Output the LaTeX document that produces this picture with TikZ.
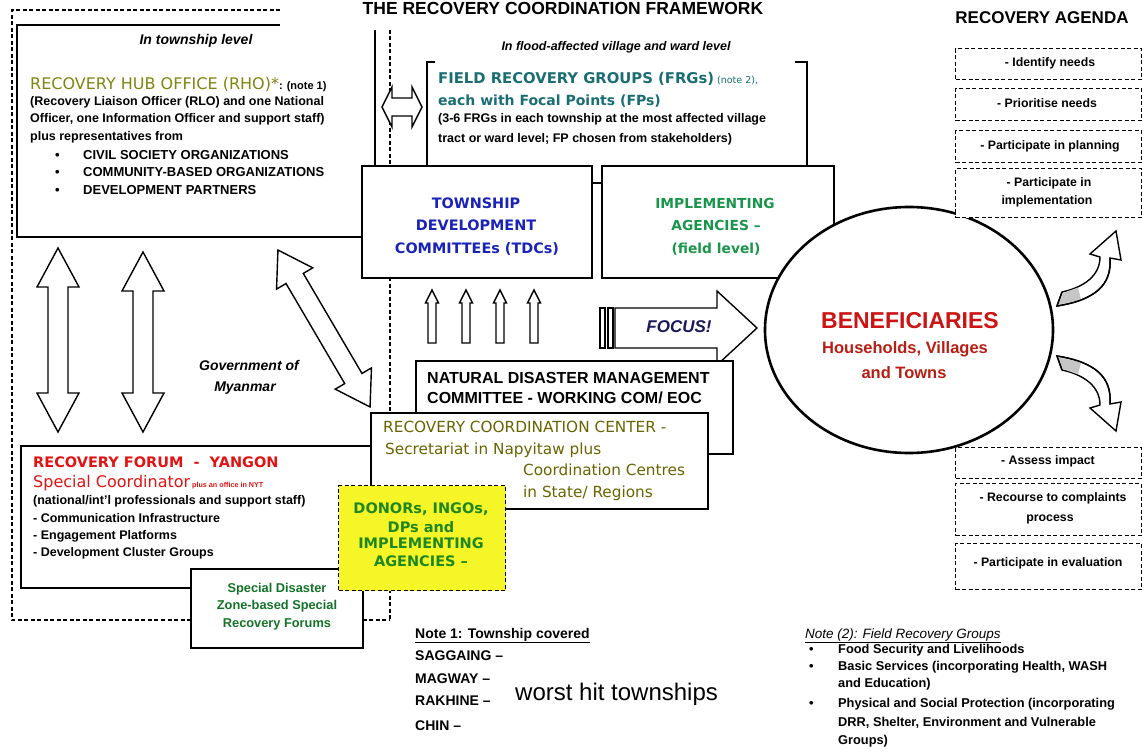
\documentclass[tikz,border=0pt]{standalone}
\usepackage{fontspec}
\setmainfont{Liberation Sans}
\newfontfamily\dvs{DejaVu Sans}
\usetikzlibrary{shapes.geometric,calc}
\definecolor{olv}{RGB}{128,132,16}
\definecolor{rccol}{RGB}{105,100,0}
\definecolor{frgteal}{RGB}{25,110,115}
\definecolor{tdcblue}{RGB}{25,35,185}
\definecolor{iagreen}{RGB}{25,150,75}
\definecolor{rfred}{RGB}{225,20,20}
\definecolor{dngreen}{RGB}{30,135,30}
\definecolor{dnyellow}{RGB}{245,245,40}
\definecolor{sdgreen}{RGB}{20,115,40}
\definecolor{benred}{RGB}{205,20,20}
\definecolor{hhred}{RGB}{185,30,20}
\definecolor{navy}{RGB}{25,25,90}
% double block arrow: cx, cy, angle, half length, half head width, half shaft width, head length
\newcommand{\dblblk}[7]{\begin{scope}[shift={(#1,#2)},rotate=#3]\draw[blockar] (-#4,0) -- (-#4+#7,#5) -- (-#4+#7,#6) -- (#4-#7,#6) -- (#4-#7,#5) -- (#4,0) -- (#4-#7,-#5) -- (#4-#7,-#6) -- (-#4+#7,-#6) -- (-#4+#7,-#5) -- cycle;\end{scope}}
% single block arrow
\newcommand{\sglblk}[7]{\begin{scope}[shift={(#1,#2)},rotate=#3]\draw[blockar] (-#4,#6) -- (#4-#7,#6) -- (#4-#7,#5) -- (#4,0) -- (#4-#7,-#5) -- (#4-#7,-#6) -- (-#4,-#6) -- cycle;\end{scope}}
\begin{document}
\begin{tikzpicture}[x=1pt,y=-1pt,
  bx/.style={draw=black,line width=1.6pt,fill=white,inner sep=0pt,anchor=north west},
  dl/.style={line width=1.3pt,dash pattern=on 4pt off 2.5pt},
  agbox/.style={draw=black,line width=1.4pt,dash pattern=on 4pt off 2.5pt,fill=white,inner sep=0pt,anchor=north west,minimum width=186pt},
  blockar/.style={draw=black,line width=1.4pt,fill=white,line join=miter},
  tx/.style={inner sep=0pt,anchor=base west},
  tc/.style={inner sep=0pt,anchor=base},
  sm/.style={font=\fontsize{12.5}{15}\selectfont\bfseries},
  ag/.style={tc,font=\fontsize{12.3}{15}\selectfont\bfseries},
  bul/.style={tx,font=\fontsize{13}{15}\selectfont\bfseries},
  tdcf/.style={tc,font=\dvs\fontsize{14.4}{17}\selectfont\bfseries,text=tdcblue},
  iaf/.style={tc,font=\dvs\fontsize{13.8}{17}\selectfont\bfseries,text=iagreen},
  rccf/.style={tx,font=\dvs\fontsize{15.3}{17}\selectfont,text=rccol},
  dnf/.style={tc,font=\dvs\fontsize{14.5}{17}\selectfont\bfseries,text=dngreen},
  sdf/.style={tc,font=\fontsize{12.8}{15}\selectfont\bfseries,text=sdgreen},
  n1/.style={tx,font=\fontsize{14}{16}\selectfont\bfseries},
  n2/.style={tx,font=\fontsize{12.8}{15}\selectfont\bfseries},
]
\useasboundingbox (0,0) rectangle (1144,752);
\clip (0,0) rectangle (1144,752);
\fill[white] (0,0) rectangle (1144,752);

% titles
\node[tc,font=\fontsize{17.5}{20}\selectfont\bfseries] (title) at (563,15) {THE RECOVERY COORDINATION FRAMEWORK};
\node[tc,font=\fontsize{17}{20}\selectfont\bfseries] (agenda) at (1042,24) {RECOVERY AGENDA};

% dashed frame and separators
\draw[dl] (280,10) -- (12,10) -- (12,620) -- (390,620);
\draw[dl] (390,30) -- (390,620);
\draw[line width=1.6pt] (375,30) -- (375,165);
% RHO frame
\draw[line width=1.6pt] (280,25) -- (17,25) -- (17,237) -- (362,237);
% FRG bracket
\draw[line width=1.6pt] (435,62) -- (427,62) -- (427,165);
\draw[line width=1.6pt] (795,62) -- (807,62) -- (807,165);

% RHO text
\node[tx,font=\fontsize{14}{16}\selectfont\bfseries\itshape,anchor=base] (tlevel) at (196,45) {In township level};
\node[tx] (rhoh) at (30,89) {{\dvs\fontsize{16}{18}\selectfont\color{olv}RECOVERY HUB OFFICE (RHO)*}{\fontsize{11}{13}\selectfont\bfseries: (note 1)}};
\node[tx,sm] (rho1) at (30,105.5) {(Recovery Liaison Officer (RLO) and one National};
\node[tx,sm] (rho2) at (30,122.5) {Officer, one Information Officer and support staff)};
\node[tx,sm] (rho3) at (30,140.5) {plus representatives from};
\node[bul] (b1) at (55,159.5) {•};
\node[bul] (b2) at (55,176.5) {•};
\node[bul] (b3) at (55,194.5) {•};
\node[bul] (rho4) at (83,159.5) {CIVIL SOCIETY ORGANIZATIONS};
\node[bul] (rho5) at (83,176.5) {COMMUNITY-BASED ORGANIZATIONS};
\node[bul] (rho6) at (83,194.5) {DEVELOPMENT PARTNERS};

% FRG text
\node[tc,font=\fontsize{12.5}{15}\selectfont\bfseries\itshape] (flevel) at (616,50.5) {In flood-affected village and ward level};
\node[tx] (frgh) at (438,83.5) {{\dvs\fontsize{14.8}{17}\selectfont\bfseries\color{frgteal}FIELD RECOVERY GROUPS (FRGs)}{\dvs\fontsize{9.5}{11}\selectfont\color{frgteal}\ (note 2),}};
\node[tx,font=\dvs\fontsize{14}{17}\selectfont\bfseries,text=frgteal] (frg2) at (438,105.5) {each with Focal Points (FPs)};
\node[tx,sm] (frg3) at (438,122.5) {(3-6 FRGs in each township at the most affected village};
\node[tx,sm] (frg4) at (438,142.5) {tract or ward level; FP chosen from stakeholders)};

% TDC and IA boxes
\node[bx,minimum width=230pt,minimum height=112pt] (tdc) at (361,165) {};
\node[bx,minimum width=232pt,minimum height=112pt] (ia) at (601,165) {};
\draw[line width=1.6pt] ($(tdc.north east)+(0,18)$) -- ($(ia.north west)+(0,18)$);
\node[tdcf] (tdc1) at (476,208) {TOWNSHIP};
\node[tdcf] (tdc2) at (476,230) {DEVELOPMENT};
\node[tdcf] (tdc3) at (477,253) {COMMITTEEs (TDCs)};
\node[iaf] (ia1) at (715,208) {IMPLEMENTING};
\node[iaf] (ia2) at (716,230) {AGENCIES –};
\node[iaf] (ia3) at (716,253) {(field level)};

% block arrows
\dblblk{402}{107}{0}{20}{20}{9}{10}
\dblblk{58}{340}{90}{92}{21}{10}{39}
\dblblk{143}{342}{90}{90}{21}{10}{39}
\dblblk{324}{328.5}{-59.6}{91}{21}{10}{33}
\sglblk{432}{316.5}{90}{26.5}{6.5}{4}{13}
\sglblk{466}{316.5}{90}{26.5}{6.5}{4}{13}
\sglblk{500}{316.5}{90}{26.5}{6.5}{4}{13}
\sglblk{534}{316.5}{90}{26.5}{6.5}{4}{13}

\node[tc,font=\fontsize{14}{16}\selectfont\bfseries\itshape] (gov1) at (249,370) {Government of};
\node[tc,font=\fontsize{14}{16}\selectfont\bfseries\itshape] (gov2) at (245,391) {Myanmar};

% FOCUS arrow
\draw[line width=1.4pt,fill=white] (600,308) rectangle (605,348);
\draw[line width=1.4pt,fill=white] (608,308) rectangle (613,348);
\sglblk{686}{328}{0}{71}{37}{20}{40}
\node[inner sep=0pt,font=\fontsize{17}{20}\selectfont\bfseries\itshape,text=navy] (focus) at (679,327) {FOCUS!};

% NDMC
\node[bx,minimum width=317pt,minimum height=93pt] (ndmc) at (415,360) {};
\node[tx,font=\fontsize{16}{18}\selectfont\bfseries] (nd1) at (427,383) {NATURAL DISASTER MANAGEMENT};
\node[tx,font=\fontsize{16}{18}\selectfont\bfseries] (nd2) at (427,403) {COMMITTEE - WORKING COM/ EOC};

% Recovery forum
\node[bx,minimum width=350pt,minimum height=142pt] (rf) at (20,445) {};
\node[tx,font=\dvs\fontsize{14.5}{17}\selectfont\bfseries,text=rfred] (rf1) at (33,467.3) {RECOVERY FORUM\ \ -\ \ YANGON};
\node[tx] (rf2) at (33,487.8) {{\dvs\fontsize{16}{18}\selectfont\color{rfred}Special Coordinator}{\fontsize{7.2}{9}\selectfont\bfseries\color{rfred}\ plus an office in NYT}};
\node[tx,sm] (rf3) at (33,504.5) {(national/int'l professionals and support staff)};
\node[tx,sm] (rf4) at (33,522.5) {- Communication Infrastructure};
\node[tx,sm] (rf5) at (33,539.5) {- Engagement Platforms};
\node[tx,sm] (rf6) at (33,556.5) {- Development Cluster Groups};

% RCC
\node[bx,minimum width=337pt,minimum height=96pt] (rcc) at (370,412) {};
\node[rccf] (rcc1) at (383,432.6) {RECOVERY COORDINATION CENTER -};
\node[rccf] (rcc2) at (385,454.6) {Secretariat in Napyitaw plus};
\node[rccf] (rcc3) at (523,475.6) {Coordination Centres};
\node[rccf] (rcc4) at (523,497.6) {in State/ Regions};

% Special disaster forums
\node[bx,minimum width=172pt,minimum height=79pt] (sdz) at (190,568) {};
\node[sdf] (sd1) at (277,592.5) {Special Disaster};
\node[sdf] (sd2) at (277,609.5) {Zone-based Special};
\node[sdf] (sd3) at (277,627.5) {Recovery Forums};

% Donors
\node[draw=black,dl,fill=dnyellow,inner sep=0pt,anchor=north west,minimum width=167pt,minimum height=105pt] (donors) at (338,485) {};
\node[dnf] (dn1) at (421,513) {DONORs, INGOs,};
\node[dnf] (dn2) at (421,532) {DPs and};
\node[dnf] (dn3) at (421,548) {IMPLEMENTING};
\node[dnf] (dn4) at (421,566) {AGENCIES –};

% Beneficiaries
\node[ellipse,draw=black,line width=2.6pt,fill=white,minimum width=288pt,minimum height=246pt,inner sep=0pt] (ben) at (909,330) {};
\node[tc,font=\fontsize{23}{26}\selectfont\bfseries,text=benred] (ben1) at (910,328) {BENEFICIARIES};
\node[tc,font=\fontsize{16.5}{19}\selectfont\bfseries,text=hhred] (ben2) at (905,353) {Households, Villages};
\node[tc,font=\fontsize{16.5}{19}\selectfont\bfseries,text=hhred] (ben3) at (904,378) {and Towns};

% Agenda boxes
\node[agbox,minimum height=31pt] (ag1) at (955,48) {};
\node[agbox,minimum height=32pt] (ag2) at (955,88) {};
\node[agbox,minimum height=32pt] (ag3) at (955,130) {};
\node[agbox,minimum height=49pt] (ag4) at (955,168) {};
\node[agbox,minimum height=31pt] (ag5) at (955,447) {};
\node[agbox,minimum height=52pt] (ag6) at (955,483) {};
\node[agbox,minimum height=46pt] (ag7) at (955,543) {};
\node[ag] (agt1) at (1050,66.5) {- Identify needs};
\node[ag] (agt2) at (1047,107.5) {- Prioritise needs};
\node[ag] (agt3) at (1050,149.5) {- Participate in planning};
\node[ag] (agt4) at (1049,186.5) {- Participate in};
\node[ag] (agt5) at (1047,204.5) {implementation};
\node[ag] (agt6) at (1048,464.5) {- Assess impact};
\node[ag] (agt7) at (1053,501.5) {- Recourse to complaints};
\node[ag] (agt8) at (1050,521.5) {process};
\node[ag] (agt9) at (1048,566.5) {- Participate in evaluation};

% curved arrows
\draw[blockar] (1057,306) .. controls (1095,300) and (1112,285) .. (1110,258) -- (1121,260) -- (1116,231) -- (1090,254) -- (1100,257) .. controls (1100,275) and (1085,287) .. (1062,292) -- cycle;
\fill[gray!45] (1058,305) -- (1081,299.5) -- (1078,287.5) -- (1063,293) -- cycle;
\draw[line width=1.4pt] (1057,306) .. controls (1095,300) and (1112,285) .. (1110,258);
\draw[line width=1.4pt] (1062,292) -- (1057,306);
\draw[blockar] (1057,356) .. controls (1095,362) and (1112,377) .. (1110,404) -- (1121,402) -- (1116,431) -- (1090,408) -- (1100,405) .. controls (1100,387) and (1085,375) .. (1062,370) -- cycle;
\fill[gray!45] (1058,357) -- (1081,362.5) -- (1078,374.5) -- (1063,369) -- cycle;
\draw[line width=1.4pt] (1057,356) .. controls (1095,362) and (1112,377) .. (1110,404);
\draw[line width=1.4pt] (1062,370) -- (1057,356);

% Note 1
\node[n1] (n1h) at (415,638) {\underline{Note 1: Township covered}};
\node[n1] (n1a) at (415,660) {SAGGAING –};
\node[n1] (n1b) at (415,683) {MAGWAY –};
\node[n1] (n1c) at (415,705) {RAKHINE –};
\node[n1] (n1d) at (415,730) {CHIN –};
\node[tx,font=\fontsize{24}{26}\selectfont] (worst) at (515,700) {worst hit townships};

% Note 2
\node[tx,font=\fontsize{13.5}{16}\selectfont\itshape] (n2h) at (805,638) {\underline{Note (2): Field Recovery Groups}};
\node[n2] (n2b1) at (809,653.5) {•};
\node[n2] (n2b2) at (809,670.5) {•};
\node[n2] (n2b3) at (809,707.5) {•};
\node[n2] (n2a) at (838,653.5) {Food Security and Livelihoods};
\node[n2] (n2c) at (838,670.5) {Basic Services (incorporating Health, WASH};
\node[n2] (n2d) at (838,687.5) {and Education)};
\node[n2] (n2e) at (838,707.5) {Physical and Social Protection (incorporating};
\node[n2] (n2f) at (838,726.5) {DRR, Shelter, Environment and Vulnerable};
\node[n2] (n2g) at (838,744.5) {Groups)};
\end{tikzpicture}
\end{document}
